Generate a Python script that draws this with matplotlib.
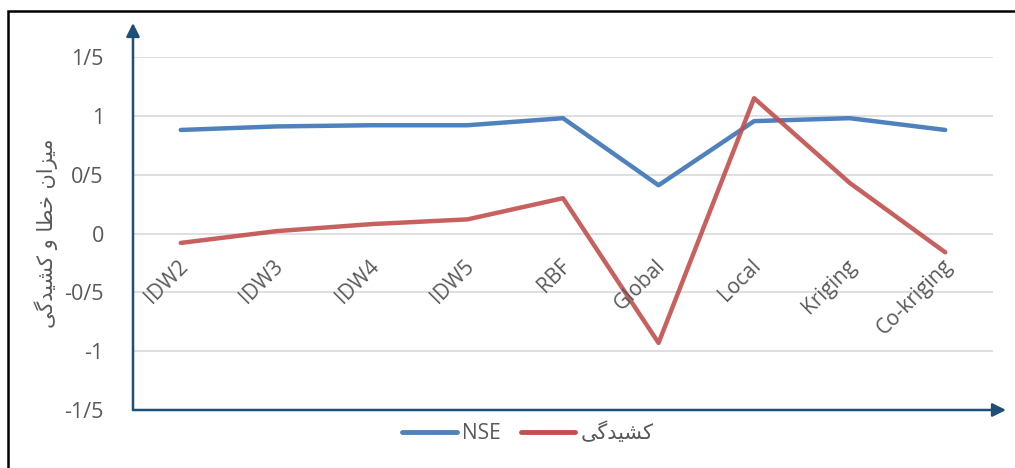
import matplotlib
matplotlib.use("Agg")
import matplotlib.pyplot as plt
from matplotlib.patches import Rectangle
from matplotlib.lines import Line2D

categories = ["IDW2", "IDW3", "IDW4", "IDW5", "RBF", "Global", "Local", "Kriging", "Co-kriging"]
nse = [0.88, 0.91, 0.92, 0.92, 0.98, 0.41, 0.955, 0.98, 0.88]
kurt = [-0.08, 0.02, 0.08, 0.12, 0.30, -0.93, 1.15, 0.43, -0.16]
yticks = [-1.5, -1.0, -0.5, 0.0, 0.5, 1.0, 1.5]
ytick_labels = ["-1/5", "-1", "-0/5", "0", "0/5", "1", "1/5"]

# Persian text in presentation forms (visual order) since matplotlib does no shaping
kurt_label = "\uFBFD\uFB94\uFEAA\uFBFF\uFEB8\uFB90"          # کشیدگی
ylabel_text = (kurt_label + " " + "\uFEED" + " " + "\uFE8E\uFEC4\uFEA7" + " "
               + "\uFEE5\uFE8D\uFEB0\uFBFF\uFEE3")             # میزان خطا و کشیدگی

plt.rcParams['font.family'] = ['Open Sans', 'DejaVu Sans']

W, H = 1015, 468
fig = plt.figure(figsize=(W / 100, H / 100), dpi=100)
ax = fig.add_axes([133 / W, (H - 410) / H, 860 / W, 353 / H])

blue = "#4F81BD"
red = "#C0504D"
axis_col = "#1F4E79"
txt_col = "#595959"

x = list(range(len(categories)))
ax.plot(x, nse, color=blue, lw=3.2, solid_capstyle='round', solid_joinstyle='round', zorder=3, label="NSE")
ax.plot(x, kurt, color=red, lw=3.2, alpha=0.9, solid_capstyle='round', solid_joinstyle='round', zorder=4,
        label=kurt_label)

ax.set_xlim(-0.5, len(categories) - 0.5)
ax.set_ylim(-1.5, 1.5)
ax.set_yticks(yticks)
ax.set_yticklabels(ytick_labels, fontsize=15.5, color=txt_col, family=['Open Sans', 'DejaVu Sans'])
ax.tick_params(axis='y', length=0, pad=21)
ax.set_xticks([])
for v in yticks[1:]:
    ax.axhline(v, color="#D9D9D9", lw=1.2, zorder=1)
for s in ax.spines.values():
    s.set_visible(False)

for i, c in enumerate(categories):
    ax.text(i + 0.04, -0.25, c, rotation=45, rotation_mode='anchor', ha='right', va='center',
            fontsize=15, color=txt_col, zorder=5)

# axis arrows
ax.annotate('', xy=(1.0 + 13 / 860, 0), xytext=(0, 0), xycoords='axes fraction',
            arrowprops=dict(arrowstyle='-|>,head_length=0.8,head_width=0.4', color=axis_col, lw=1.8,
                            shrinkA=0, shrinkB=0), annotation_clip=False)
ax.annotate('', xy=(0, 1.0 + 34 / 353), xytext=(0, 0), xycoords='axes fraction',
            arrowprops=dict(arrowstyle='-|>,head_length=0.8,head_width=0.4', color=axis_col, lw=1.8,
                            shrinkA=0, shrinkB=0), annotation_clip=False)

# y label
fig.text(46 / W, 1 - 233 / H, ylabel_text, rotation=90, ha='center', va='center', fontsize=15,
         color=txt_col, family=['DejaVu Sans'])

# legend
handles = [Line2D([0], [0], color=blue, lw=3.5, solid_capstyle='round'),
           Line2D([0], [0], color=red, lw=3.5, solid_capstyle='round')]
fig.legend(handles, ["NSE", kurt_label], loc='center', bbox_to_anchor=(528 / W, 1 - 433 / H),
           ncol=2, frameon=False, handlelength=2.6, columnspacing=1.0,
           handletextpad=0.25, labelcolor=txt_col, prop={'family': ['Open Sans', 'DejaVu Sans'], 'size': 15})

# outer border
fig.add_artist(Rectangle((8 / W, -0.1), 1.2, 1 - 11 / H + 0.1, transform=fig.transFigure,
                         fill=False, edgecolor='black', lw=1.8))

fig.savefig("out.png", dpi=100, facecolor='white')
